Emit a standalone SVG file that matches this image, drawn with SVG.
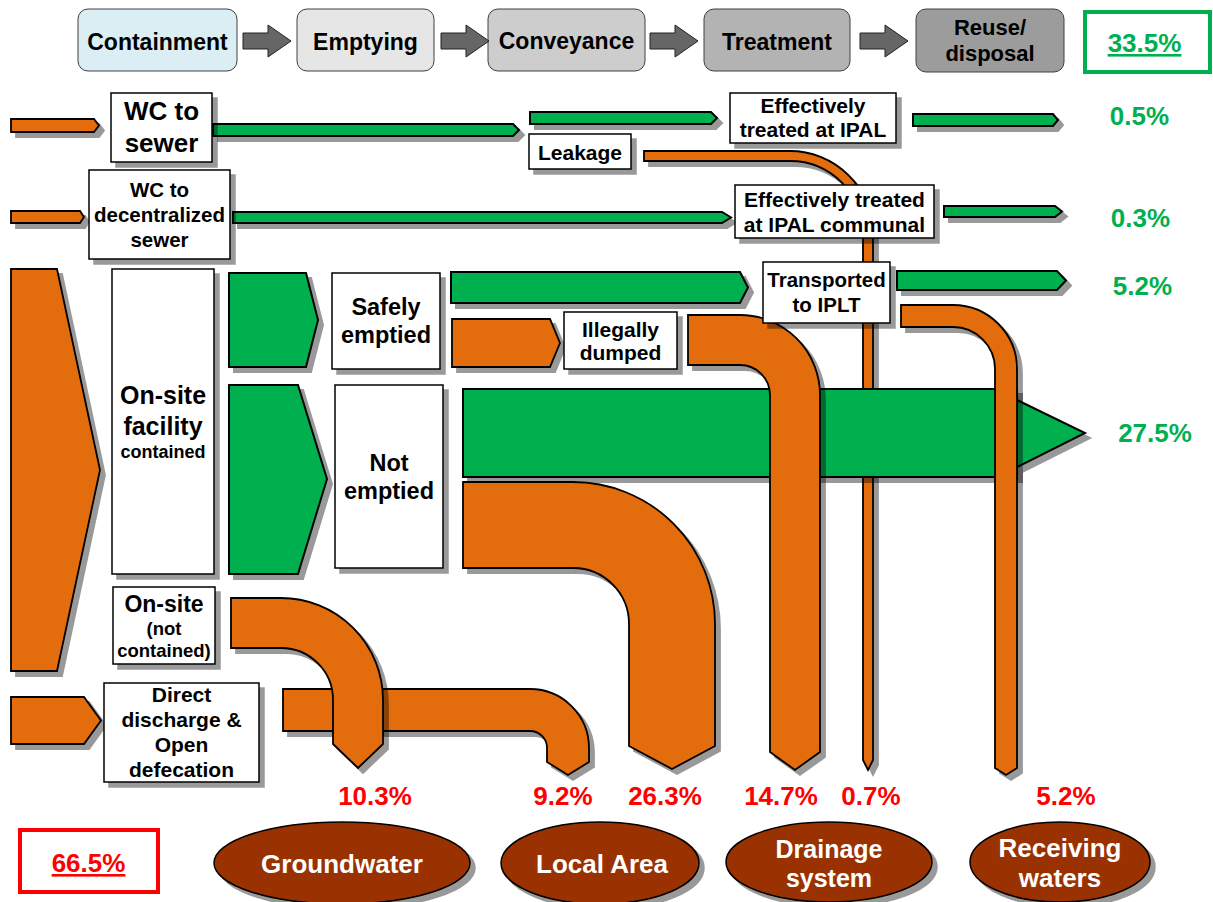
<svg xmlns="http://www.w3.org/2000/svg" width="1213" height="902" viewBox="0 0 1213 902">
<defs>
<filter id="sh" filterUnits="userSpaceOnUse" x="0" y="0" width="1213" height="902">
<feOffset in="SourceAlpha" dx="5" dy="5" result="o"/>
<feFlood flood-color="#000" flood-opacity="0.4"/>
<feComposite in2="o" operator="in" result="s"/>
<feMerge><feMergeNode in="s"/><feMergeNode in="SourceGraphic"/></feMerge>
</filter>
<path id="harr" d="M0,33 H25 V25 L48,41 L25,57 V49 H0 Z"/>
<style>
.t{font-family:"Liberation Sans",Arial,Helvetica,sans-serif;font-weight:bold;text-anchor:middle;fill:#000}
.box{fill:#fff;stroke:#000;stroke-width:1.5;filter:url(#sh)}
.g{fill:#00B050;stroke:#000;stroke-width:2;stroke-linejoin:miter;filter:url(#sh)}
.o{fill:#E36C09;stroke:#000;stroke-width:1.8;filter:url(#sh)}
.stage{stroke:#404040;stroke-width:1}
.ha{fill:#666;stroke:#222;stroke-width:1}
.pg{fill:#00B050}
.pr{fill:#FF0000}
.el{fill:#993300;stroke:#000;stroke-width:1.5;filter:url(#sh)}
.w{fill:#fff}
</style>
</defs>
<rect width="1213" height="902" fill="#fff"/>

<!-- header stages -->
<g id="stage-containment"><rect class="stage" x="78" y="9" width="159" height="62" rx="10" fill="#DAEEF3"/><text class="t" x="157.5" y="50" font-size="23">Containment</text></g>
<g id="stage-emptying"><rect class="stage" x="297" y="9" width="137" height="62" rx="10" fill="#E6E6E6"/><text class="t" x="365.5" y="50" font-size="23">Emptying</text></g>
<g id="stage-conveyance"><rect class="stage" x="488" y="9" width="157" height="62" rx="10" fill="#CDCDCD"/><text class="t" x="566.5" y="49" font-size="23">Conveyance</text></g>
<g id="stage-treatment"><rect class="stage" x="704" y="9" width="146" height="62" rx="10" fill="#B3B3B3"/><text class="t" x="777" y="50" font-size="23">Treatment</text></g>
<g id="stage-reuse"><rect class="stage" x="916" y="9" width="148" height="63" rx="10" fill="#9C9C9C"/><text class="t" x="990" y="35" font-size="22">Reuse/</text><text class="t" x="990" y="61" font-size="22">disposal</text></g>
<g id="total-safe"><rect x="1085" y="12" width="125" height="60" fill="none" stroke="#00B050" stroke-width="4"/><text class="t pg" x="1144.5" y="52" font-size="26" text-decoration="underline">33.5%</text></g>

<g id="connectors">
<use href="#harr" class="ha" x="243"/>
<use href="#harr" class="ha" x="441"/>
<use href="#harr" class="ha" x="650"/>
<use href="#harr" class="ha" x="860"/>

<!-- leakage thin pipe (underneath) -->
<path class="o" d="M644,151 H790 A83,83 0 0 1 873,234 V760 L868,770 L863,760 V234 A73,73 0 0 0 790,161 H644 Z"/>

<!-- row 1 -->
<polygon class="o" points="11,119 94,119 99,125.5 94,132 11,132"/>
<polygon class="g" points="213,124 513,124 519,130 513,136 213,136"/>
<polygon class="g" points="530,112 711,112 717,118 711,124 530,124"/>
<polygon class="g" points="913,114 1053,114 1058,120 1053,126 913,126"/>
<!-- row 2 -->
<polygon class="o" points="11,211 80,211 84,217 80,223 11,223"/>
<polygon class="g" points="233,212 722,212 731,217.5 722,223 233,223"/>
<polygon class="g" points="944,206 1055,206 1062,211.5 1055,217 944,217"/>
<!-- onsite -->
<polygon class="o" points="11,269 57,269 100,470 57,671 11,671"/>
<polygon class="g" points="229,273 306,273 318,320 306,367 229,367"/>
<polygon class="g" points="229,385 298,385 327,479 298,574 229,574"/>
<polygon class="g" points="451,272 740,272 748,287.5 740,303 451,303"/>
<polygon class="o" points="452,319 550,319 560,343 550,367 452,367"/>
<polygon class="g" points="897,271 1057,271 1066,280.5 1057,290 897,290"/>
<!-- not emptied big arrow -->
<polygon class="g" points="463,389 1017,389 1017,400 1085,433 1017,467 1017,477 463,477"/>
<!-- illegally dumped to drainage -->
<path class="o" d="M688,315 H740 A80,80 0 0 1 820,395 V752 L795,770 L770,752 V395 A30,30 0 0 0 740,365 H688 Z"/>
<!-- transported to receiving waters -->
<path class="o" d="M901,305 H953 A64,64 0 0 1 1017,369 V768 L1006,775 L995,768 V369 A42,42 0 0 0 953,327 H901 Z"/>
<!-- not emptied to local area -->
<path class="o" d="M463,482 H573 A142,142 0 0 1 715,624 V746 L672,769 L629,746 V624 A56,56 0 0 0 573,568 H463 Z"/>
<!-- direct discharge -->
<polygon class="o" points="11,697 84,697 101,720.5 84,744 11,744"/>
<path class="o" d="M283,689 H530 A59,59 0 0 1 589,748 V762 L568,775 L547,762 V748 A17,17 0 0 0 530,731 H283 Z"/>
<!-- onsite not contained to groundwater -->
<path class="o" d="M231,598 H281 A102,102 0 0 1 383,700 V744 L358,768 L333,744 V700 A52,52 0 0 0 281,648 H231 Z"/>
</g>

<g id="node-wc-sewer"><rect class="box" x="111" y="93" width="101" height="69"/><text class="t" x="161.5" y="120" font-size="26">WC to</text><text class="t" x="161.5" y="152" font-size="26">sewer</text></g>
<g id="node-wc-decentral"><rect class="box" x="89" y="170" width="141" height="89"/><text class="t" x="159.5" y="197" font-size="20.5">WC to</text><text class="t" x="159.5" y="222" font-size="20.5">decentralized</text><text class="t" x="159.5" y="247" font-size="20.5">sewer</text></g>
<g id="node-leakage"><rect class="box" x="529" y="134" width="102" height="35"/><text class="t" x="580" y="160" font-size="21">Leakage</text></g>
<g id="node-ipal"><rect class="box" x="730" y="93" width="166" height="50"/><text class="t" x="813" y="113" font-size="21">Effectively</text><text class="t" x="813" y="137" font-size="21">treated at IPAL</text></g>
<g id="node-ipal-communal"><rect class="box" x="735" y="185" width="199" height="53"/><text class="t" x="834.5" y="207" font-size="21">Effectively treated</text><text class="t" x="834.5" y="232" font-size="21">at IPAL communal</text></g>
<g id="node-onsite"><rect class="box" x="112" y="269" width="102" height="305"/><text class="t" x="163" y="404" font-size="25">On-site</text><text class="t" x="163" y="435" font-size="25">facility</text><text class="t" x="163" y="458" font-size="18">contained</text></g>
<g id="node-safely"><rect class="box" x="332" y="273" width="108" height="96"/><text class="t" x="386" y="315" font-size="23.5">Safely</text><text class="t" x="386" y="343" font-size="23.5">emptied</text></g>
<g id="node-not-emptied"><rect class="box" x="335" y="385" width="108" height="183"/><text class="t" x="389" y="471" font-size="23.5">Not</text><text class="t" x="389" y="499" font-size="23.5">emptied</text></g>
<g id="node-transported"><rect class="box" x="763" y="262" width="127" height="61"/><text class="t" x="826.5" y="287" font-size="20.5">Transported</text><text class="t" x="826.5" y="312" font-size="20.5">to IPLT</text></g>
<g id="node-illegal"><rect class="box" x="564" y="312" width="113" height="57"/><text class="t" x="620.5" y="337" font-size="21">Illegally</text><text class="t" x="620.5" y="360" font-size="21">dumped</text></g>
<g id="node-onsite-nc"><rect class="box" x="113" y="587" width="102" height="77"/><text class="t" x="164" y="612" font-size="23">On-site</text><text class="t" x="164" y="635" font-size="18.5">(not</text><text class="t" x="164" y="657" font-size="18.5">contained)</text></g>
<g id="node-direct"><rect class="box" x="104" y="683" width="155" height="99"/><text class="t" x="181.5" y="702" font-size="21">Direct</text><text class="t" x="181.5" y="727" font-size="21">discharge &amp;</text><text class="t" x="181.5" y="752" font-size="21">Open</text><text class="t" x="181.5" y="777" font-size="21">defecation</text></g>

<g id="safe-percentages">
<text class="t pg" x="1139.5" y="125" font-size="26">0.5%</text>
<text class="t pg" x="1140.5" y="227" font-size="26">0.3%</text>
<text class="t pg" x="1142.5" y="295" font-size="26">5.2%</text>
<text class="t pg" x="1155" y="442" font-size="26">27.5%</text>
</g>
<g id="unsafe-percentages">
<text class="t pr" x="375" y="805" font-size="26">10.3%</text>
<text class="t pr" x="563" y="805" font-size="26">9.2%</text>
<text class="t pr" x="665" y="805" font-size="26">26.3%</text>
<text class="t pr" x="781" y="805" font-size="26">14.7%</text>
<text class="t pr" x="871" y="805" font-size="26">0.7%</text>
<text class="t pr" x="1066" y="805" font-size="26">5.2%</text>
</g>

<g id="total-unsafe"><rect x="20" y="830" width="138" height="62" fill="none" stroke="#FF0000" stroke-width="4"/><text class="t pr" x="88.5" y="872" font-size="26" text-decoration="underline">66.5%</text></g>

<g id="dest-groundwater"><ellipse class="el" cx="342" cy="863" rx="128" ry="41"/><text class="t w" x="342" y="873" font-size="26">Groundwater</text></g>
<g id="dest-local"><ellipse class="el" cx="600" cy="863" rx="99" ry="41"/><text class="t w" x="602" y="873" font-size="26">Local Area</text></g>
<g id="dest-drainage"><ellipse class="el" cx="829" cy="862" rx="103" ry="40"/><text class="t w" x="829" y="858" font-size="25">Drainage</text><text class="t w" x="829" y="887" font-size="25">system</text></g>
<g id="dest-receiving"><ellipse class="el" cx="1060" cy="862" rx="90" ry="40"/><text class="t w" x="1060" y="857" font-size="26">Receiving</text><text class="t w" x="1060" y="887" font-size="26">waters</text></g>
</svg>
